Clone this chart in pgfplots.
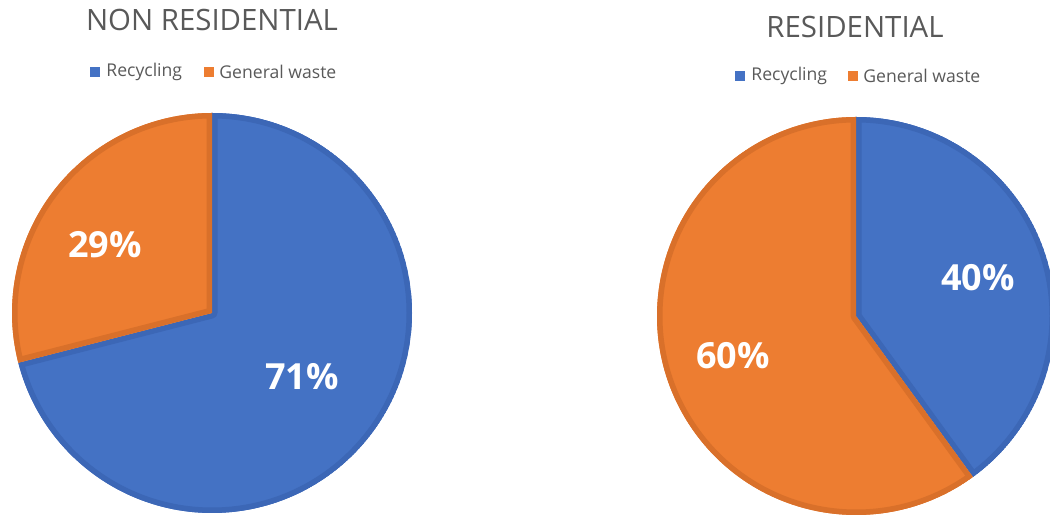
\documentclass[border=0pt]{standalone}
\usepackage{pgfplots}
\pgfplotsset{compat=1.18}
\usepackage{fontspec}
\setmainfont{Open Sans}
\definecolor{rblue}{HTML}{4472C4}
\definecolor{rbluedk}{HTML}{3C67B6}
\definecolor{gorange}{HTML}{ED7D31}
\definecolor{gorangedk}{HTML}{D9702A}
\definecolor{titlegrey}{HTML}{595959}
\definecolor{leggrey}{HTML}{595959}

% data (percent)
\def\nonresRec{71}
\def\nonresGen{29}
\def\resRec{40}
\def\resGen{60}
\pgfmathsetmacro{\aL}{90-3.6*\nonresRec}
\pgfmathsetmacro{\aR}{90-3.6*\resRec}

\newcommand{\piewedge}[7]{% cx, cy, start, end, fill, border, radius
  \begin{scope}
    \clip (axis cs:#1,#2) -- ++(#3:#7) arc[start angle=#3,end angle=#4,radius=#7] -- cycle;
    \fill[#5] (axis cs:#1,#2) -- ++(#3:#7) arc[start angle=#3,end angle=#4,radius=#7] -- cycle;
    \draw[#6,line width=5.5pt,line join=round] (axis cs:#1,#2) -- ++(#3:#7) arc[start angle=#3,end angle=#4,radius=#7] -- cycle;
  \end{scope}}

\begin{document}
\begin{tikzpicture}
\begin{axis}[
  hide axis, scale only axis,
  width=525pt, height=259pt,
  xmin=0, xmax=1050, ymin=0, ymax=518,
]
\addplot[draw=none] coordinates {(0,0) (1050,518)};
% NON RESIDENTIAL
\piewedge{212}{205}{90}{\aL}{rblue}{rbluedk}{100pt}
\piewedge{212}{205}{\aL}{-270}{gorange}{gorangedk}{100pt}
% RESIDENTIAL
\piewedge{856}{202}{90}{\aR}{rblue}{rbluedk}{99.5pt}
\piewedge{856}{202}{\aR}{-270}{gorange}{gorangedk}{99.5pt}

% titles
\node[text=titlegrey,font=\fontsize{14.7}{16}\selectfont] at (axis cs:212,498) {NON RESIDENTIAL};
\node[text=titlegrey,font=\fontsize{14.7}{16}\selectfont] at (axis cs:855,491) {RESIDENTIAL};

% legends
\fill[rblue] (axis cs:90,441) rectangle (axis cs:100,451);
\node[anchor=west,inner sep=0pt,text=leggrey,font=\fontsize{8.8}{10}\selectfont] at (axis cs:106,446) {Recycling};
\fill[gorange] (axis cs:204,441) rectangle (axis cs:214,451);
\node[anchor=west,inner sep=0pt,text=leggrey,font=\fontsize{8.8}{10}\selectfont] at (axis cs:219,446) {General waste};

\fill[rblue] (axis cs:735,437) rectangle (axis cs:745,447);
\node[anchor=west,inner sep=0pt,text=leggrey,font=\fontsize{8.8}{10}\selectfont] at (axis cs:751,442) {Recycling};
\fill[gorange] (axis cs:848,437) rectangle (axis cs:858,447);
\node[anchor=west,inner sep=0pt,text=leggrey,font=\fontsize{8.8}{10}\selectfont] at (axis cs:863,442) {General waste};

% data labels
\node[text=white,font=\bfseries\fontsize{18}{20}\selectfont] at (axis cs:105,273) {\nonresGen\%};
\node[text=white,font=\bfseries\fontsize{18}{20}\selectfont] at (axis cs:302,141) {\nonresRec\%};
\node[text=white,font=\bfseries\fontsize{18}{20}\selectfont] at (axis cs:978,240) {\resRec\%};
\node[text=white,font=\bfseries\fontsize{18}{20}\selectfont] at (axis cs:733,162) {\resGen\%};
\end{axis}
\end{tikzpicture}
\end{document}
